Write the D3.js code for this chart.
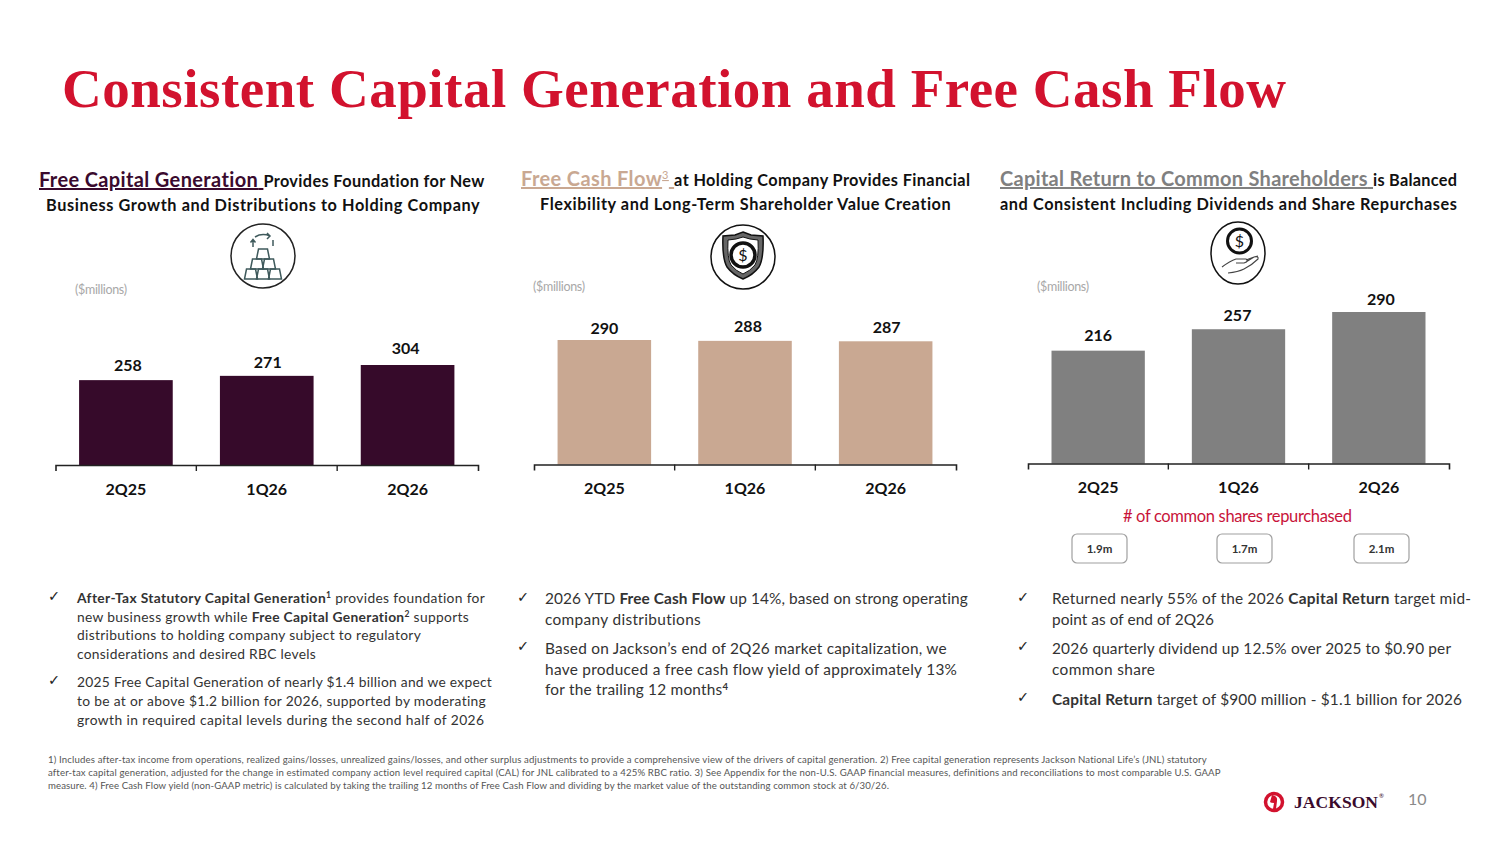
<!DOCTYPE html>
<html><head><meta charset="utf-8">
<script src="https://cdn.jsdelivr.net/npm/d3@7"></script>
<style>html,body{margin:0;padding:0;background:#fff}svg{display:block}text{font-family:Lato,"Open Sans",sans-serif}</style>
</head><body><svg id="c" width="1500" height="844"></svg>
<script>
// ---- data ----
const categories = ["2Q25","1Q26","2Q26"];
const capitalGeneration = [258,271,304];
const freeCashFlow = [290,288,287];
const capitalReturn = [216,257,290];
const sharesRepurchased = ["1.9m","1.7m","2.1m"];
const titleText = "Consistent Capital Generation and Free Cash Flow";
const unitLabel = "($millions)";
const sharesLabel = "# of common shares repurchased";
const footnotes = [
 "1) Includes after-tax income from operations, realized gains/losses, unrealized gains/losses, and other surplus adjustments to provide a comprehensive view of the drivers of capital generation. 2) Free capital generation represents Jackson National Life\u2019s (JNL) statutory",
 "after-tax capital generation, adjusted for the change in estimated company action level required capital (CAL) for JNL calibrated to a 425% RBC ratio. 3) See Appendix for the non-U.S. GAAP financial measures, definitions and reconciliations to most comparable U.S. GAAP",
 "measure. 4) Free Cash Flow yield (non-GAAP metric) is calculated by taking the trailing 12 months of Free Cash Flow and dividing by the market value of the outstanding common stock at 6/30/26."
];
const bullets1 = ["**After-Tax Statutory Capital Generation**^1^ provides foundation for","new business growth while **Free Capital Generation**^2^ supports","distributions to holding company subject to regulatory","considerations and desired RBC levels","2025 Free Capital Generation of nearly $1.4 billion and we expect","to be at or above $1.2 billion for 2026, supported by moderating","growth in required capital levels during the second half of 2026"];
const bullets2 = ["2026 YTD **Free Cash Flow** up 14%, based on strong operating","company distributions","Based on Jackson\u2019s end of 2Q26 market capitalization, we","have produced a free cash flow yield of approximately 13%","for the trailing 12 months^4^"];
const bullets3 = ["Returned nearly 55% of the 2026 **Capital Return** target mid-","point as of end of 2Q26","2026 quarterly dividend up 12.5% over 2025 to $0.90 per","common share","**Capital Return** target of $900 million - $1.1 billion for 2026"];

// ---- layout ----
const svg = d3.select("#c");
function fit(t, w){
  const n = t.node(), m = n.getComputedTextLength(), c = n.textContent.length;
  if (w) t.attr("letter-spacing", ((w-m)/Math.max(1,c-1)).toFixed(3));
}
function rich(str, x, y, w, o){
  o = Object.assign({size:13.5, fill:"#333"}, o);
  const t = svg.append("text").attr("x",x).attr("y",y).attr("font-size",o.size).attr("fill",o.fill);
  if (o.weight) t.attr("font-weight",o.weight);
  let shift = 0;
  str.split(/(\*\*.*?\*\*|\^.*?\^)/).filter(s=>s).forEach(s=>{
    const ts = t.append("tspan");
    if (s.startsWith("**")) ts.text(s.slice(2,-2)).attr("font-weight",700);
    else if (s.startsWith("^")) { ts.text(s.slice(1,-1)).attr("font-size",o.size*0.62).attr("dy",-5).attr("font-weight",700); shift=5; return; }
    else ts.text(s);
    if (shift){ ts.attr("dy",shift); shift=0; }
  });
  fit(t,w); return t;
}
function header(lead, rest, x, y, w, color, sup){
  const t = svg.append("text").attr("x",x).attr("y",y).attr("font-weight",700).attr("fill","#111").attr("font-size",16.3);
  t.append("tspan").text(lead).attr("fill",color).attr("font-size",20).attr("text-decoration","underline");
  if (sup) t.append("tspan").text(sup).attr("fill",color).attr("font-size",11).attr("dy",-7).attr("font-weight",400).attr("text-decoration","underline");
  const b = t.append("tspan").text(" ").attr("fill",color).attr("font-size",20).attr("text-decoration","underline");
  if (sup) b.attr("dy",7);
  t.append("tspan").text(rest);
  fit(t,w);
}

// title
const tt = svg.append("text").attr("x",62).attr("y",107).text(titleText)
  .style("font-family","'Liberation Serif',serif").attr("font-weight",700).attr("font-size",55).attr("fill","#d2122e");
fit(tt,1224);

// headers
header("Free Capital Generation","Provides Foundation for New",39,187,446,"#3a0a2e");
rich("Business Growth and Distributions to Holding Company",46,211,434,{size:16.3,fill:"#111",weight:700});
header("Free Cash Flow","at Holding Company Provides Financial",521,186,449,"#c9a892","3");
rich("Flexibility and Long-Term Shareholder Value Creation",540,210,411,{size:16.3,fill:"#111",weight:700});
header("Capital Return to Common Shareholders","is Balanced",1000,186,457,"#808080");
rich("and Consistent Including Dividends and Share Repurchases",1000,210,457,{size:16.3,fill:"#111",weight:700});

// panels
const panels = [
 {values:capitalGeneration,color:"#360a2a",x0:55.5,x1:478,base:465,top:365,ref:304,unit:[75,294],ldx:[1,0,-3],ldy:[9,8,11]},
 {values:freeCashFlow,color:"#c9a892",x0:534,x1:956,base:464.5,top:340,ref:290,unit:[533,291],ldx:[-1,2,0],ldy:[6.5,9,8]},
 {values:capitalReturn,color:"#808080",x0:1028,x1:1449,base:463.5,top:312,ref:290,unit:[1037,291],ldx:[-1,-2,1],ldy:[10,8,7]}
];
panels.forEach(p=>{
  const x = d3.scaleBand().domain(categories).range([p.x0,p.x1]).paddingInner(0.335).paddingOuter(0.1675);
  const y = d3.scaleLinear().domain([0,p.ref]).range([p.base,p.top]);
  const g = svg.append("g");
  const data = categories.map((c,i)=>({c,v:p.values[i],i}));
  g.selectAll("rect").data(data).join("rect")
    .attr("x",d=>x(d.c)).attr("width",x.bandwidth()).attr("y",d=>y(d.v)).attr("height",d=>y(0)-y(d.v)).attr("fill",p.color);
  g.selectAll("text.v").data(data).join("text").attr("class","v")
    .attr("x",d=>x(d.c)+x.bandwidth()/2+1+p.ldx[d.i]).attr("y",d=>y(d.v)-p.ldy[d.i]).attr("text-anchor","middle")
    .attr("font-size",16).attr("font-weight",700).attr("fill","#111").text(d=>d.v);
  const ax = g.append("g").attr("transform",`translate(0,${p.base})`)
    .call(d3.axisBottom(x).tickSize(0).tickSizeOuter(6).tickPadding(18.5));
  ax.select(".domain").attr("stroke","#222").attr("stroke-width",1.6);
  ax.selectAll("text").attr("font-size",16).attr("font-weight",700).attr("fill","#111").style("font-family","Lato,sans-serif");
  [1,2].forEach(i=>{
    const xx = p.x0 + i*x.step();
    ax.append("line").attr("x1",xx).attr("x2",xx).attr("y1",0).attr("y2",6).attr("stroke","#222").attr("stroke-width",1.4);
  });
  const u = svg.append("text").attr("x",p.unit[0]).attr("y",p.unit[1]).text(unitLabel).attr("font-size",12.5).attr("fill","#a8a8a8");
  fit(u,52);
  p.x = x;
});

// shares repurchased
const sl = svg.append("text").attr("x",1123).attr("y",522).text(sharesLabel).attr("font-size",16.5).attr("fill","#c8143a");
fit(sl,229);
const pillCx = [1099.5,1244.5,1381.5];
sharesRepurchased.forEach((s,i)=>{
  svg.append("rect").attr("x",pillCx[i]-27.5).attr("y",534).attr("width",55).attr("height",29).attr("rx",5)
    .attr("fill","#fff").attr("stroke","#a0a0a0").attr("stroke-width",1.2);
  svg.append("text").attr("x",pillCx[i]).attr("y",553).attr("text-anchor","middle").text(s)
    .attr("font-size",11.5).attr("font-weight",700).attr("fill","#333");
});

// bullets
function check(x,y){ svg.append("text").attr("x",x).attr("y",y).text("\u2713").style("font-family","'DejaVu Sans',sans-serif").attr("font-size",14.5).attr("font-weight",700).attr("fill","#222"); }
const b1y=[603,622,640,659,687,706,725], b1w=[408,392,344,239,415,409,407];
bullets1.forEach((s,i)=>rich(s,77,b1y[i],b1w[i],{size:13.8}));
check(48,601);check(48,685);
const b2y=[604,625,654,675,695], b2w=[423,156,402,412,183];
bullets2.forEach((s,i)=>rich(s,545,b2y[i],b2w[i],{size:15.4}));
check(517,602);check(517,651);
const b3y=[604,625,654,675,705], b3w=[419,162,399,103,410];
bullets3.forEach((s,i)=>rich(s,1052,b3y[i],b3w[i],{size:15.4}));
check(1017,602);check(1017,651);check(1017,702);

// footnotes
const fw=[1159,1173,841];
footnotes.forEach((s,i)=>{
  const t=svg.append("text").attr("x",48).attr("y",763+i*13).text(s).attr("font-size",9.6).attr("fill","#555");
  fit(t,fw[i]);
});

// icon 1: gold bars
const ic1=svg.append("g").attr("fill","none").attr("stroke","#3f5a5c").attr("stroke-width",1.5);
svg.append("circle").attr("cx",263).attr("cy",256).attr("r",32).attr("fill","none").attr("stroke","#222").attr("stroke-width",1.5);
[[263,254],[257,264],[269,264],[251,274],[263,274],[275,274]].forEach(([a,b])=>{
  ic1.append("path").attr("d",`M${a-4.5},${b-5}h9l2,10h-13z`);
});
ic1.append("path").attr("d","M255,237a13,9 0 0 1 15,-1m-3,-3l3,3l-3,3");
ic1.append("path").attr("d","M253,247v-7m-2.5,2.5l2.5,-3l2.5,3M273,240v6");

// icon 2: shield
svg.append("circle").attr("cx",743).attr("cy",257).attr("r",32).attr("fill","none").attr("stroke","#111").attr("stroke-width",1.5);
const ic2=svg.append("g");
ic2.append("path").attr("d","M743,232l8,3 12,1 q1,22 -4,31 q-6,8 -16,12 q-10,-4 -16,-12 q-5,-9 -4,-31l12,-1z").attr("fill","#666").attr("stroke","#111").attr("stroke-width",1.5);
ic2.append("path").attr("d","M743,237l7,2 8,1 q1,18 -3,25 q-5,6 -12,9 q-7,-3 -12,-9 q-4,-7 -3,-25l8,-1z").attr("fill","#fff").attr("stroke","#111");
ic2.append("circle").attr("cx",743).attr("cy",255).attr("r",12).attr("fill","#fff").attr("stroke","#111").attr("stroke-width",3.5);
ic2.append("text").attr("x",743).attr("y",261).attr("text-anchor","middle").text("$").attr("font-size",16).attr("fill","#111");

// icon 3: hand & coin
svg.append("ellipse").attr("cx",1238).attr("cy",253).attr("rx",27).attr("ry",31).attr("fill","none").attr("stroke","#111").attr("stroke-width",1.5);
svg.append("circle").attr("cx",1239.5).attr("cy",241).attr("r",12).attr("fill","#fff").attr("stroke","#111").attr("stroke-width",3);
svg.append("text").attr("x",1239.5).attr("y",247).attr("text-anchor","middle").text("$").attr("font-size",16).attr("fill","#111");
svg.append("path").attr("d","M1222,267q8,-6 14,-8h10q4,2 -2,4h-8M1228,273q10,-1 16,-4q8,-4 14,-10q1,-3 -4,-2l-8,5M1246,260l8,-3 4,-1").attr("fill","none").attr("stroke","#444").attr("stroke-width",1.1);

// logo + page
const lg=svg.append("g");
lg.append("circle").attr("cx",1274).attr("cy",802).attr("r",8.5).attr("fill","none").attr("stroke","#d2122e").attr("stroke-width",3.5);
lg.append("path").attr("d","M1272,795q6,1 5,6l-1,8h-3l1,-6q-3,0 -4,-1z").attr("fill","#d2122e");
const jk=svg.append("text").attr("x",1294).attr("y",808).text("JACKSON").style("font-family","'Liberation Serif',serif").attr("font-weight",700).attr("font-size",17.5).attr("fill","#3a0a2c");
fit(jk,84);
svg.append("text").attr("x",1379).attr("y",798).text("\u00ae").attr("font-size",6).attr("fill","#3a0a2c");
svg.append("text").attr("x",1408).attr("y",805).text("10").attr("font-size",16).attr("fill","#8a8a8a");
</script></body></html>
